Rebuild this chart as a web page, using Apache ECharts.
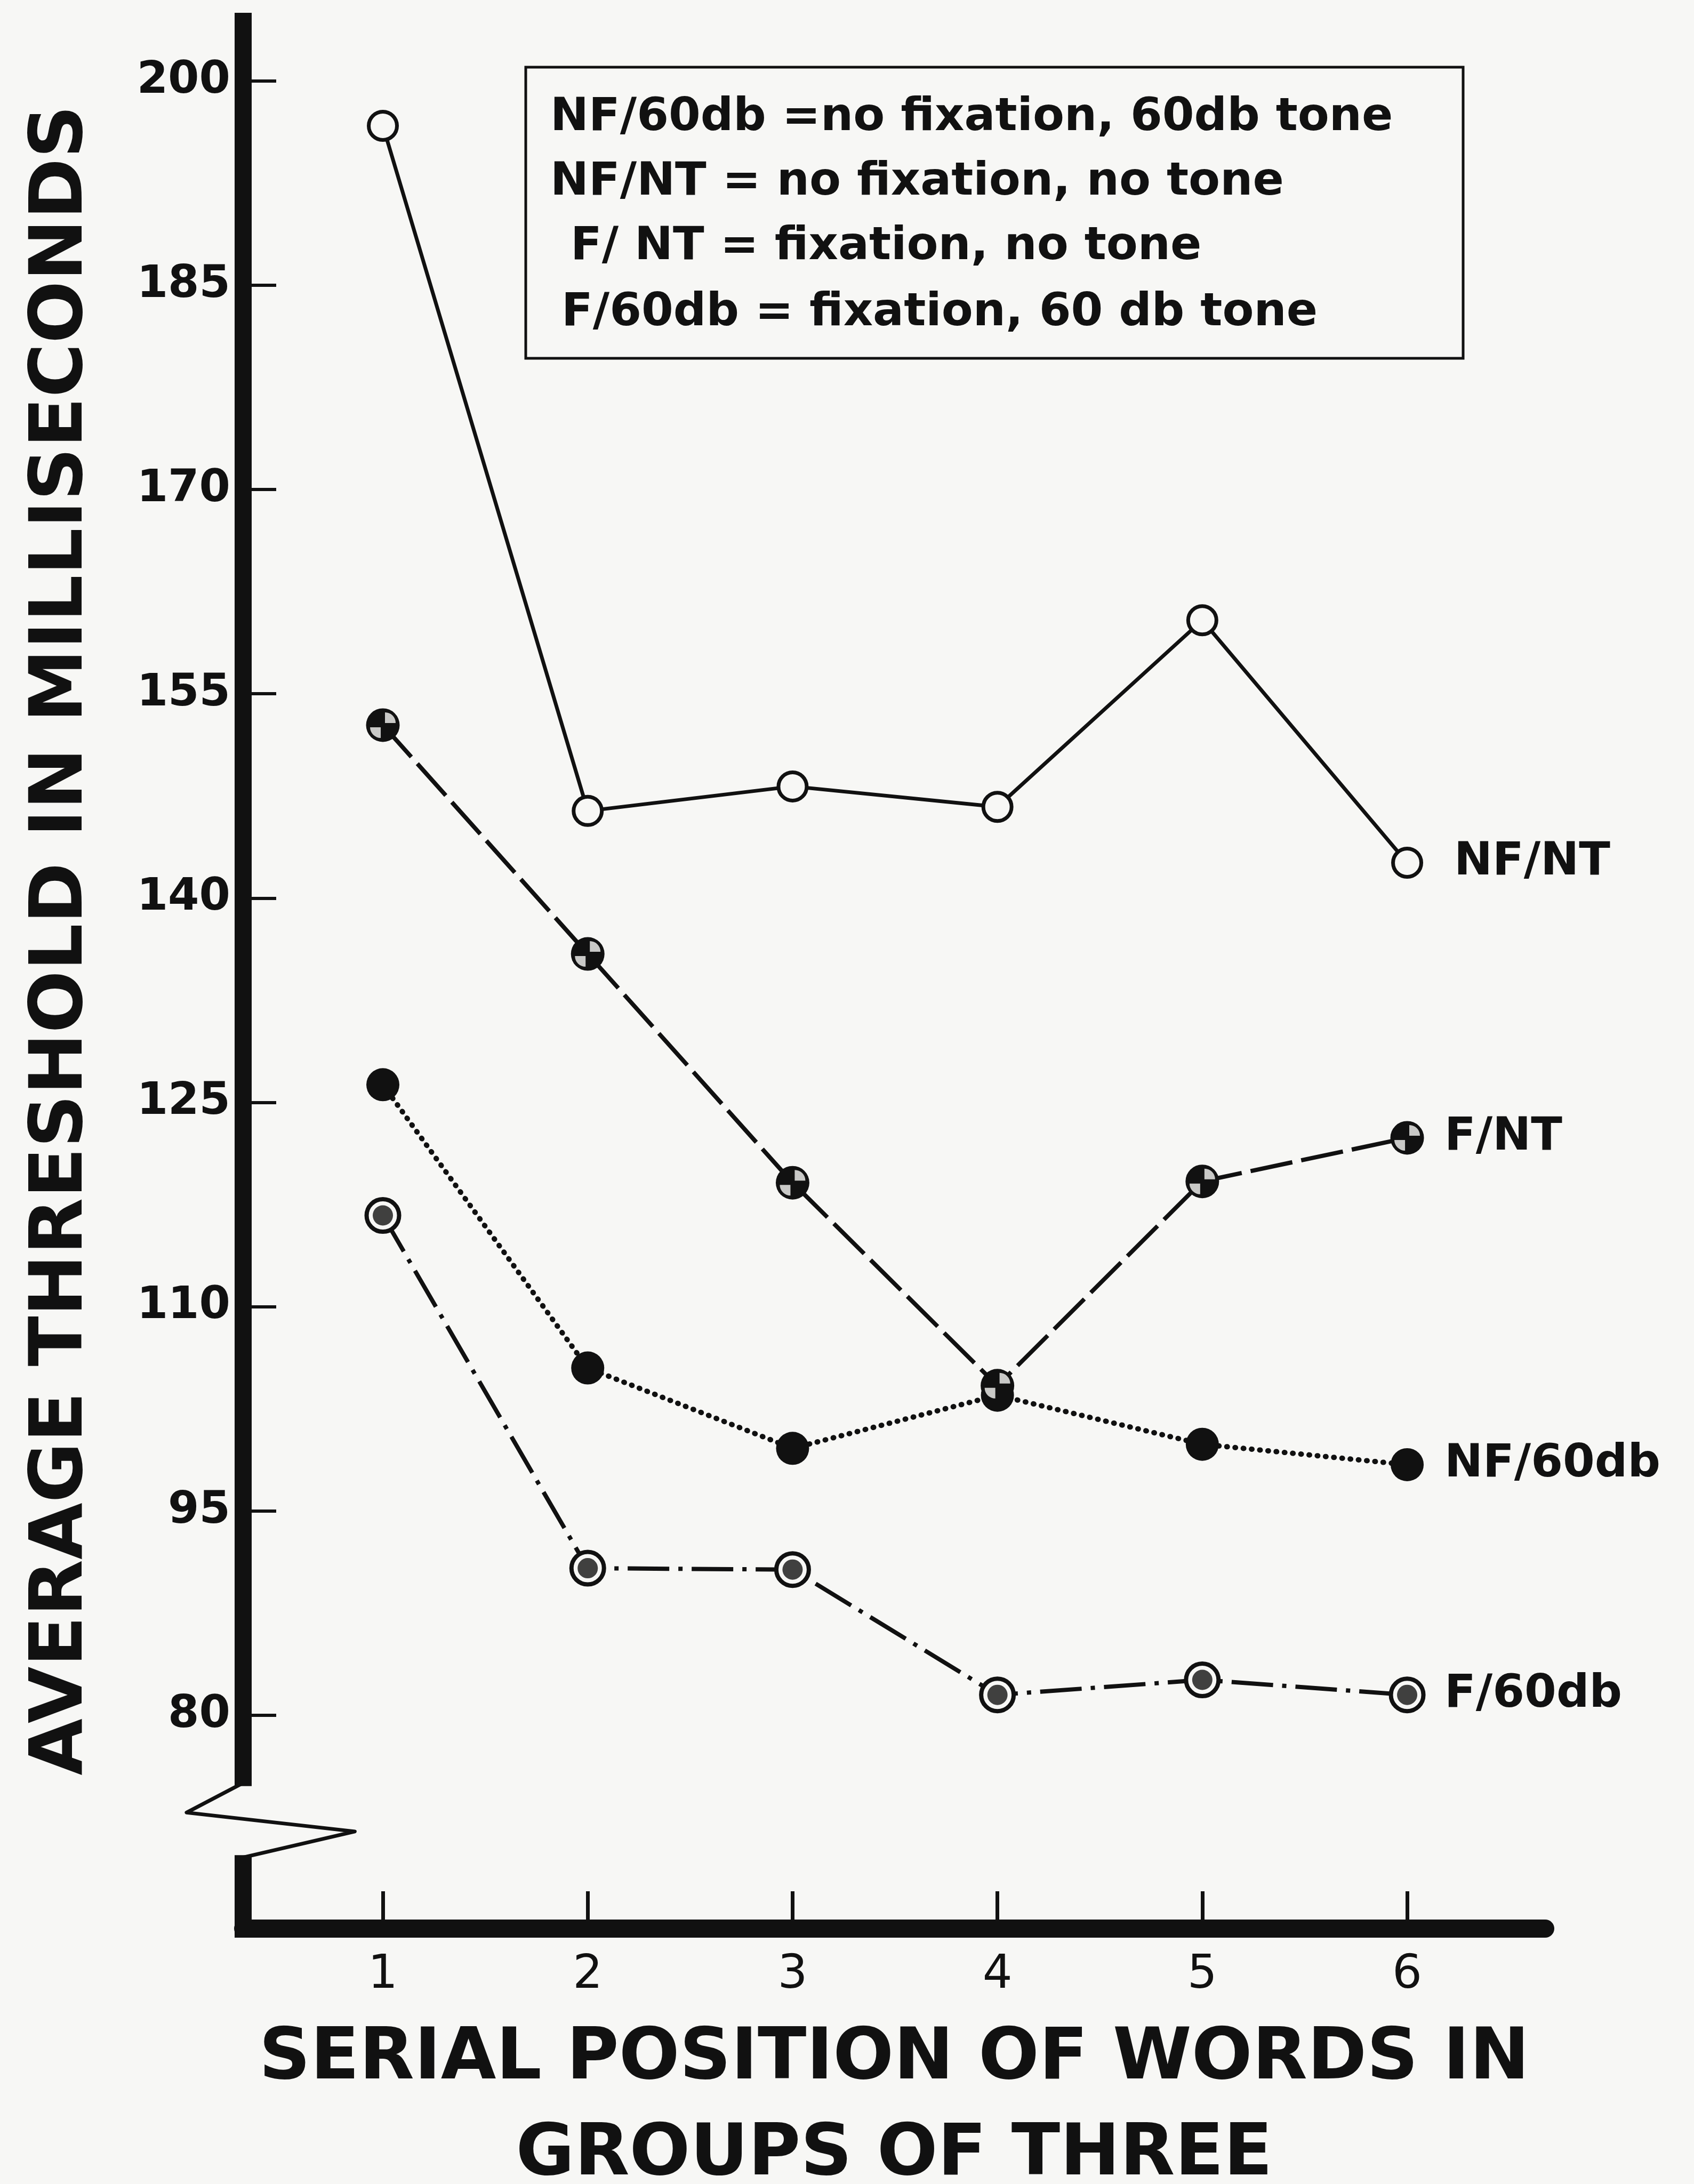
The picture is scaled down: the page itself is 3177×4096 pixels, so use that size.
<!DOCTYPE html>
<html>
<head>
<meta charset="utf-8">
<script src="https://cdn.jsdelivr.net/npm/echarts@6/dist/echarts.min.js"></script>
<style>
  html, body { margin: 0; padding: 0; background: #f7f7f5; }
  #thresholds { width: 3177px; height: 4096px; }
</style>
</head>
<body>
<div id="thresholds"></div>
<script>
// serial position of the word within the group of three
var positions = [1, 2, 3, 4, 5, 6];
// average threshold (ms) per condition
var nfNt = [196.7, 146.4, 148.2, 146.7, 160.4, 142.6];
var fNt = [152.7, 135.9, 119.1, 104.2, 119.2, 122.4];
var nf60 = [126.3, 105.5, 99.6, 103.5, 99.9, 98.4];
var f60 = [116.7, 90.8, 90.7, 81.5, 82.6, 81.5];
var yTicks = [80, 95, 110, 125, 140, 155, 170, 185, 200];
var seriesNames = ['NF/NT', 'F/NT', 'NF/60db', 'F/60db'];
var keyLines = [
    'NF/60db =no fixation, 60db tone',
    'NF/NT = no fixation, no tone',
    'F/ NT = fixation, no tone',
    'F/60db = fixation, 60 db tone'
];

var ink = '#111';
var paper = '#f7f7f5';
var font = 'DejaVu Sans';
var xMin = 0.318, xMax = 6.674, yMin = 64.34, yMax = 205;

function pairs(vals) {
    return positions.map(function (p, i) { return [p, vals[i]]; });
}

function endLabel(dist) {
    return {
        show: true, formatter: '{a}', distance: dist,
        fontSize: 86, fontWeight: 'bold', color: ink, fontFamily: font
    };
}

// two white quarter wedges for the F/NT marker
var wedges = 'path://M58.3,41.7 L58.3,0 A41.7,41.7 0 0,1 100,41.7 Z M41.7,58.3 L0,58.3 A41.7,41.7 0 0,0 41.7,100 Z';

var myChart = echarts.init(document.getElementById('thresholds'));
option = {
    backgroundColor: paper,
    animation: false,
    textStyle: { fontFamily: font, color: ink },
    grid: { left: 456, right: 279, top: 24, bottom: 479, outerBoundsMode: 'none', containLabel: false },
    xAxis: {
        type: 'value',
        min: xMin,
        max: xMax,
        name: 'SERIAL POSITION OF WORDS IN\nGROUPS OF THREE',
        nameLocation: 'middle',
        nameGap: 156,
        nameTextStyle: { fontSize: 134, fontWeight: 'bold', lineHeight: 180, color: ink },
        axisLine: { lineStyle: { color: ink, width: 34 } },
        axisTick: { inside: true, length: 70, customValues: positions, lineStyle: { color: ink, width: 7 } },
        axisLabel: { customValues: positions, margin: 44, fontSize: 88, color: ink },
        splitLine: { show: false }
    },
    yAxis: {
        type: 'value',
        min: yMin,
        max: yMax,
        name: 'AVERAGE THRESHOLD IN MILLISECONDS',
        nameLocation: 'middle',
        nameRotate: 90,
        nameGap: 270,
        nameTextStyle: { fontSize: 138, fontWeight: 'bold', color: ink, padding: [0, 0, 0, 114] },
        axisLine: { show: false },
        axisTick: { inside: true, length: 62, customValues: yTicks, lineStyle: { color: ink, width: 6 } },
        axisLabel: { customValues: yTicks, margin: 24, fontSize: 84, fontWeight: 'bold', color: ink },
        splitLine: { show: false }
    },
    series: [
        {
            name: seriesNames[0], type: 'line', data: pairs(nfNt),
            symbol: 'circle', symbolSize: 53,
            itemStyle: { color: paper, borderColor: ink, borderWidth: 7 },
            lineStyle: { color: ink, width: 7 },
            endLabel: endLabel(88)
        },
        {
            name: seriesNames[1], type: 'line', data: pairs(fNt),
            symbol: 'circle', symbolSize: 63,
            itemStyle: { color: ink },
            lineStyle: { color: ink, width: 8, type: [80, 17] },
            endLabel: endLabel(70)
        },
        {
            name: seriesNames[2], type: 'line', data: pairs(nf60),
            symbol: 'circle', symbolSize: 62,
            itemStyle: { color: ink },
            lineStyle: { color: ink, width: 10, type: [1, 14.5], cap: 'round' },
            endLabel: endLabel(70)
        },
        {
            name: seriesNames[3], type: 'line', data: pairs(f60),
            symbol: 'circle', symbolSize: 61,
            itemStyle: { color: paper, borderColor: ink, borderWidth: 8 },
            lineStyle: { color: ink, width: 8, type: [78, 17, 8, 17] },
            endLabel: endLabel(70)
        },
        {
            name: seriesNames[1] + ' mark', type: 'scatter', data: pairs(fNt),
            symbol: wedges, symbolSize: 48, z: 5, silent: true,
            itemStyle: { color: paper }
        },
        {
            name: seriesNames[3] + ' mark', type: 'scatter', data: pairs(f60),
            symbol: 'circle', symbolSize: 38, z: 5, silent: true,
            itemStyle: { color: ink }
        }
    ]
};
myChart.setOption(option);

// y axis line with the zig-zag break, placed through the axes
function px(x, y) {
    return myChart.convertToPixel({ xAxisIndex: 0, yAxisIndex: 0 }, [x, y]);
}
var top0 = px(xMin, yMax);
var brk1 = px(xMin, 74.8);
var zz1 = px(0.042, 72.86);
var zz2 = px(0.863, 71.47);
var brk2 = px(xMin, 69.73);
var bottom = px(xMin, yMin)[1] + 17;

var keyX = [1032, 1032, 1070, 1053];
var keyY = [222, 343, 464, 588];

myChart.setOption({
    graphic: [
        {
            type: 'rect', z: 10,
            shape: { x: top0[0] - 16, y: top0[1], width: 32, height: brk1[1] - top0[1] },
            style: { fill: ink }
        },
        {
            type: 'polyline', z: 10,
            shape: { points: [[brk1[0] - 4, brk1[1] - 4], zz1, zz2, [brk2[0] - 8, brk2[1] + 6]] },
            style: { stroke: ink, lineWidth: 7, fill: null, lineJoin: 'round' }
        },
        {
            type: 'rect', z: 10,
            shape: { x: brk2[0] - 16, y: brk2[1], width: 32, height: bottom - brk2[1] },
            style: { fill: ink }
        },
        {
            type: 'rect', z: 10,
            shape: { x: 986, y: 126, width: 1758, height: 546 },
            style: { fill: null, stroke: ink, lineWidth: 5 }
        }
    ].concat(keyLines.map(function (t, i) {
        return {
            type: 'text', z: 10, x: keyX[i], y: keyY[i],
            style: {
                text: t, fill: ink, font: 'bold 86px "DejaVu Sans"',
                textAlign: 'left', textVerticalAlign: 'middle'
            }
        };
    }))
});
</script>
</body>
</html>
